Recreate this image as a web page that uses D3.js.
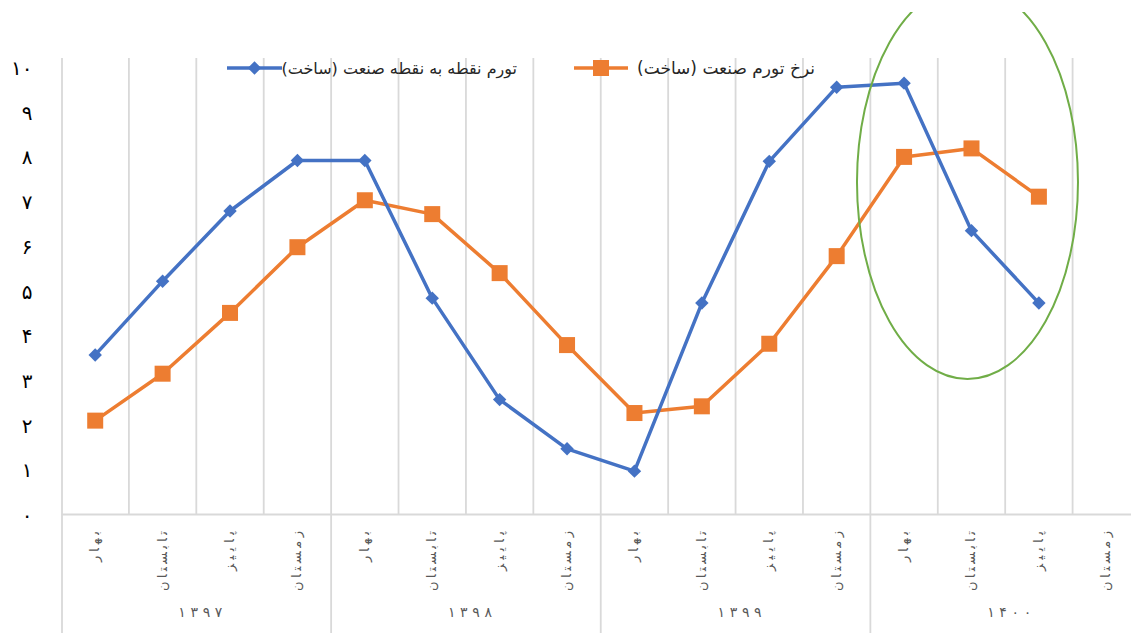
<!DOCTYPE html>
<html><head><meta charset="utf-8">
<script src="https://cdn.jsdelivr.net/npm/d3@7"></script>
<style>
html,body{margin:0;padding:0;background:#fff;overflow:hidden}
svg{display:block}
text{font-family:"DejaVu Sans",sans-serif}
</style></head>
<body>
<svg id="c" width="1131" height="633"></svg>
<script>
// ---- data ----
const years = ['۱۳۹۷','۱۳۹۸','۱۳۹۹','۱۴۰۰'];
const seasons = ['بهار','تابستان','پاییز','زمستان'];
const seriesPointName = 'تورم نقطه به نقطه صنعت (ساخت)';
const seriesRateName = 'نرخ تورم صنعت (ساخت)';
const pointToPoint = [3.57, 5.22, 6.79, 7.92, 7.92, 4.84, 2.57, 1.47, 0.97, 4.73, 7.90, 9.56, 9.65, 6.35, 4.73, null];
const inflationRate = [2.10, 3.15, 4.51, 5.98, 7.03, 6.72, 5.40, 3.79, 2.27, 2.42, 3.82, 5.78, 8.00, 8.19, 7.11, null];
const yTicks = [0,1,2,3,4,5,6,7,8,9,10];
const yTickLabels = ['۰','۱','۲','۳','۴','۵','۶','۷','۸','۹','۱۰'];

// ---- layout ----
const svg = d3.select('#c');
const W = 1131, H = 633;
const pLeft = 61.5, pRight = 1140, pTop = 58, pBottom = 514.5;
const seasonLen = [31, 60, 40, 60];
const cats = [];
years.forEach((yy,i)=>seasons.forEach((s,j)=>cats.push({id:i*4+j, year:yy, season:s, len:seasonLen[j]})));
const x = d3.scaleBand().domain(cats.map(d=>d.id)).range([pLeft,pRight]).paddingInner(0).paddingOuter(0);
const y = d3.scaleLinear().domain([0,10]).range([pBottom, pBottom-447]);
const cx = i => x(i) + x.bandwidth()/2;
const grid = '#d9d9d9';

// gridlines (category boundaries)
const g = svg.append('g');
cats.forEach((d,i)=>{
  if(i===0) return;
  const xx = x(d.id);
  const isYear = i%4===0;
  g.append('line').attr('x1',xx).attr('x2',xx).attr('y1',pTop).attr('y2', isYear?H:pBottom)
    .attr('stroke',grid).attr('stroke-width',1.8);
});
g.append('line').attr('x1',pLeft+0.5).attr('x2',pLeft+0.5).attr('y1',pTop).attr('y2',H).attr('stroke',grid).attr('stroke-width',1.8);
g.append('line').attr('x1',pLeft).attr('x2',pRight).attr('y1',pBottom).attr('y2',pBottom).attr('stroke',grid).attr('stroke-width',1.8);

// y axis labels
const yAxis = d3.axisLeft(y).tickValues(yTicks).tickSize(0).tickPadding(29)
  .tickFormat((d,i)=>yTickLabels[i]);
const ya = svg.append('g').attr('transform',`translate(${pLeft},0)`).call(yAxis);
ya.select('.domain').remove();
ya.selectAll('text').attr('font-size',20).attr('fill','#000').attr('font-family','"DejaVu Sans",sans-serif').attr('dy','0.35em');

// season labels (rotated)
const xa = svg.append('g');
xa.selectAll('text.season').data(cats).enter().append('text')
  .attr('class','season')
  .attr('transform',d=>`translate(${cx(d.id)+4},531) rotate(-90)`)
  .attr('text-anchor','end')
  .attr('font-size',13).attr('fill','#595959')
  .attr('textLength',d=>d.len).attr('lengthAdjust','spacing')
  .text(d=>d.season);
// year labels
years.forEach((yr,i)=>{
  const x0 = x(i*4), x1 = x(i*4+3)+x.bandwidth();
  xa.append('text').attr('x',(x0+x1)/2+4).attr('y',617).attr('text-anchor','middle')
    .attr('font-size',14).attr('fill','#595959')
    .attr('textLength',44).attr('lengthAdjust','spacing').text(yr);
});

// lines
const line = d3.line().defined(d=>d.v!=null).x(d=>cx(d.i)).y(d=>y(d.v));
const blueData = pointToPoint.map((v,i)=>({i,v}));
const orangeData = inflationRate.map((v,i)=>({i,v}));
const blue = '#4472C4', orange = '#ED7D31';
svg.append('path').datum(orangeData).attr('d',line).attr('fill','none').attr('stroke',orange).attr('stroke-width',3.5).attr('stroke-linejoin','round');
svg.append('path').datum(blueData).attr('d',line).attr('fill','none').attr('stroke',blue).attr('stroke-width',3.5).attr('stroke-linejoin','round');
svg.selectAll('rect.om').data(orangeData.filter(d=>d.v!=null)).enter().append('rect')
  .attr('x',d=>cx(d.i)-8).attr('y',d=>y(d.v)-8).attr('width',16).attr('height',16).attr('fill',orange);
svg.selectAll('path.bm').data(blueData.filter(d=>d.v!=null)).enter().append('path')
  .attr('transform',d=>`translate(${cx(d.i)},${y(d.v)}) rotate(45)`).attr('d',d3.symbol().type(d3.symbolSquare).size(90)).attr('fill',blue);

// legend
const leg = svg.append('g');
leg.append('line').attr('x1',227).attr('x2',282).attr('y1',68).attr('y2',68).attr('stroke',blue).attr('stroke-width',3.5);
leg.append('path').attr('transform','translate(254.5,68) rotate(45)').attr('d',d3.symbol().type(d3.symbolSquare).size(90)).attr('fill',blue);
leg.append('text').attr('x',517).attr('y',74).attr('text-anchor','end').attr('font-size',16).attr('fill','#262626').text(seriesPointName);
leg.append('line').attr('x1',574).attr('x2',628).attr('y1',68).attr('y2',68).attr('stroke',orange).attr('stroke-width',3.5);
leg.append('rect').attr('x',593).attr('y',60).attr('width',16).attr('height',16).attr('fill',orange);
leg.append('text').attr('x',815).attr('y',74).attr('text-anchor','end').attr('font-size',17).attr('fill','#262626').text(seriesRateName);

// highlight ellipse
svg.append('clipPath').attr('id','ec').append('rect').attr('x',0).attr('y',12).attr('width',W).attr('height',H);
svg.append('ellipse').attr('clip-path','url(#ec)')
  .attr('cx',cx(13)-4).attr('cy',182).attr('rx',110.5).attr('ry',197)
  .attr('fill','none').attr('stroke','#70AD47').attr('stroke-width',2);
</script>
</body></html>
